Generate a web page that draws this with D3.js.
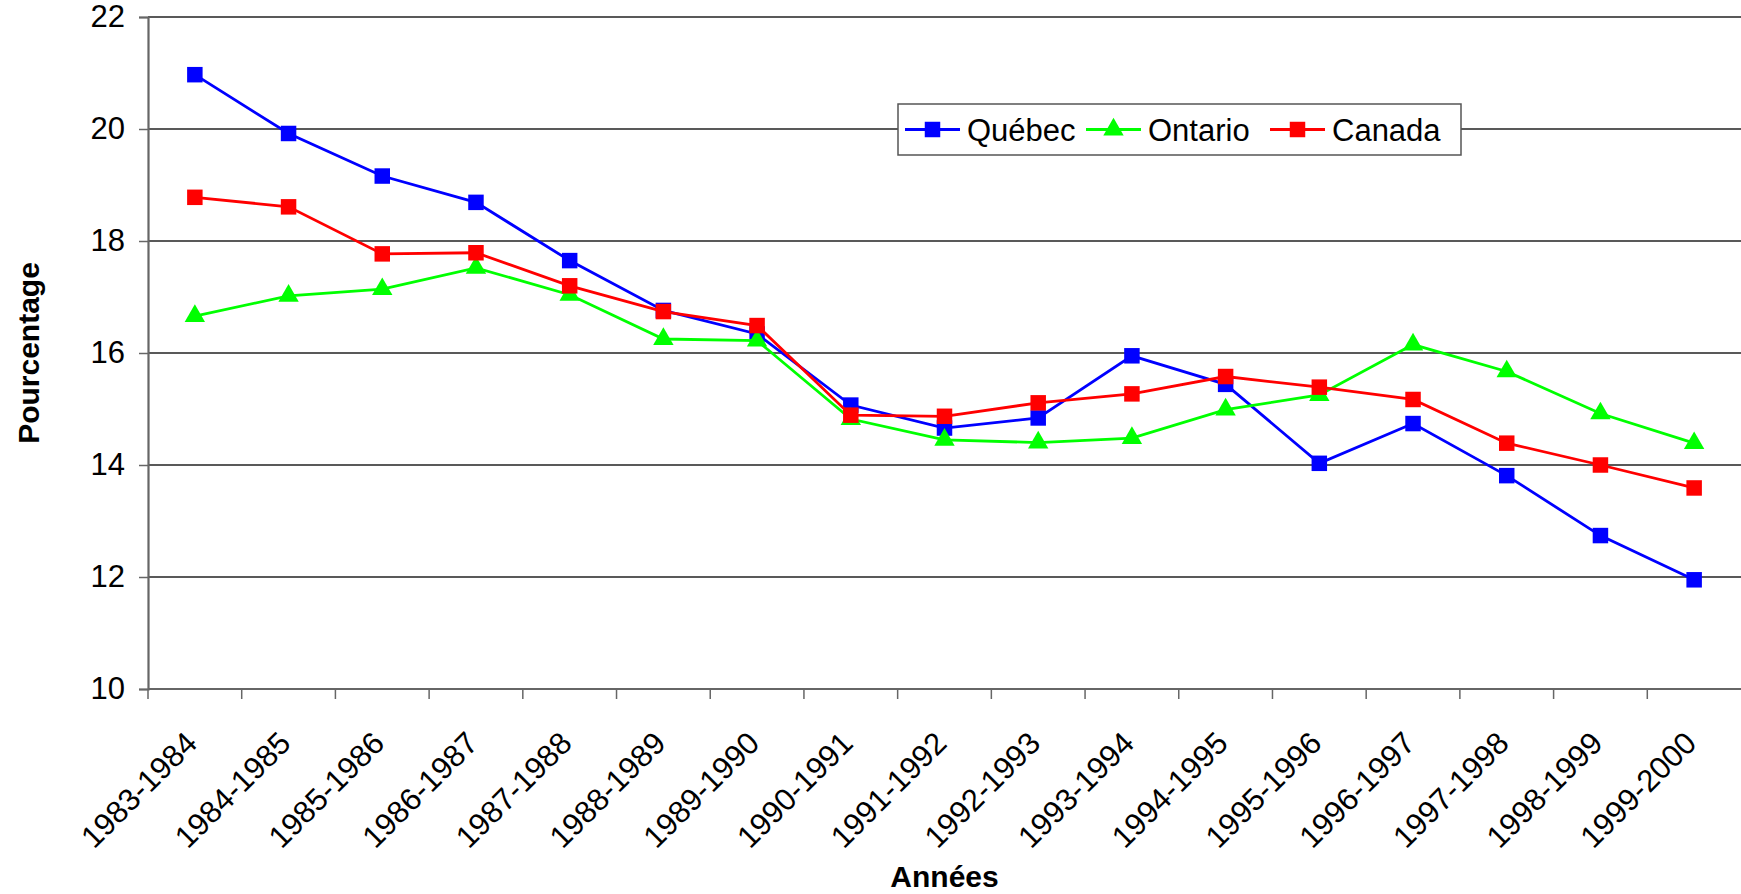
<!DOCTYPE html>
<html lang="fr">
<head>
<meta charset="UTF-8">
<script src="https://d3js.org/d3.v7.min.js"></script>
<style>
  body { margin: 0; background: #fff; }
  text { font-family: "Liberation Sans", Arial, sans-serif; }
</style>
<title>Pourcentage</title>
</head>
<body>
<div class="canvas"></div>
<script>
const years = ['1983-1984', '1984-1985', '1985-1986', '1986-1987', '1987-1988', '1988-1989',
  '1989-1990', '1990-1991', '1991-1992', '1992-1993', '1993-1994', '1994-1995',
  '1995-1996', '1996-1997', '1997-1998', '1998-1999', '1999-2000']
const quebec = [20.97, 19.92, 19.16, 18.69, 17.65, 16.76, 16.34, 15.07, 14.66, 14.84, 15.95,
  15.44, 14.03, 14.74, 13.81, 12.74, 11.95]
const ontario = [16.66, 17.02, 17.14, 17.52, 17.04, 16.25, 16.22, 14.82, 14.45, 14.40, 14.48,
  14.99, 15.25, 16.15, 15.67, 14.92, 14.39]
const canada = [18.78, 18.61, 17.77, 17.79, 17.2, 16.74, 16.49, 14.89, 14.87, 15.11, 15.27,
  15.58, 15.39, 15.17, 14.39, 14.0, 13.59]
const yTicks = [10, 12, 14, 16, 18, 20, 22]

const series = [
  { name: 'Québec', values: quebec, color: '#0000ff', shape: 'square' },
  { name: 'Ontario', values: ontario, color: '#00ff00', shape: 'triangle' },
  { name: 'Canada', values: canada, color: '#ff0000', shape: 'square' }
]

const width = 1741
const height = 894
const [mt, mr, mb, ml] = [17, 0, 205, 148]
const gw = width - ml - mr
const gh = height - mt - mb

const svg = d3.select('.canvas').append('svg')
  .attr('width', width)
  .attr('height', height)

const x = d3.scaleBand().domain(years).range([0, gw])
const y = d3.scaleLinear().domain([10, 22]).range([gh, 0])

const g = svg.append('g').attr('transform', `translate(${ml},${mt})`)

// grid
g.selectAll('.grid').data(yTicks.filter(d => d > 10)).enter()
  .append('line')
  .attr('x1', 0).attr('x2', gw)
  .attr('y1', d => y(d)).attr('y2', d => y(d))
  .attr('stroke', '#222').attr('stroke-width', 1.3)

// y axis
const yAxis = g.append('g')
  .call(d3.axisLeft(y).tickValues(yTicks).tickSize(9).tickPadding(14))
yAxis.select('.domain').attr('stroke', '#666').attr('stroke-width', 2.2)
yAxis.selectAll('.tick line').attr('stroke', '#666').attr('stroke-width', 1.5)
yAxis.selectAll('text').attr('font-size', 31).attr('fill', '#000')
  .style('font-family', '"Liberation Sans", Arial, sans-serif')

// x axis, ticks on band edges
const xAxis = g.append('g').attr('transform', `translate(0,${gh})`)
xAxis.append('line').attr('x1', 0).attr('x2', gw)
  .attr('stroke', '#666').attr('stroke-width', 2.2)
xAxis.selectAll('.xt').data(years).enter().append('line')
  .attr('x1', d => x(d)).attr('x2', d => x(d))
  .attr('y1', 0).attr('y2', 10)
  .attr('stroke', '#666').attr('stroke-width', 1.5)
xAxis.selectAll('.xl').data(years).enter().append('text')
  .attr('transform', d => `translate(${x(d) + x.bandwidth() / 2 + 4},${56}) rotate(-45)`)
  .attr('text-anchor', 'end')
  .attr('font-size', 31)
  .text(d => d)

// lines and markers
const line = d3.line()
  .x((d, i) => x(years[i]) + x.bandwidth() / 2)
  .y(d => y(d))

const sq = d3.symbol().type(d3.symbolSquare).size(240)
const tri = d3.symbol().type(d3.symbolTriangle).size(180)

series.forEach(s => {
  g.append('path')
    .attr('d', line(s.values))
    .attr('fill', 'none')
    .attr('stroke', s.color)
    .attr('stroke-width', 2.8)
  g.selectAll(null).data(s.values).enter().append('path')
    .attr('d', s.shape === 'square' ? sq() : tri())
    .attr('transform', (d, i) => `translate(${x(years[i]) + x.bandwidth() / 2},${y(d)})`)
    .attr('fill', s.color)
})

// legend
const legend = svg.append('g').attr('transform', 'translate(898,104)')
legend.append('rect')
  .attr('width', 563).attr('height', 51)
  .attr('fill', '#fff').attr('stroke', '#555').attr('stroke-width', 1.5)
const itemX = [7, 188, 372]
series.forEach((s, i) => {
  const it = legend.append('g').attr('transform', `translate(${itemX[i]},25.5)`)
  it.append('line').attr('x1', 0).attr('x2', 55)
    .attr('stroke', s.color).attr('stroke-width', 2.8)
  it.append('path')
    .attr('d', s.shape === 'square' ? sq() : tri())
    .attr('transform', 'translate(27.5,0)')
    .attr('fill', s.color)
  it.append('text').attr('x', 62).attr('y', 11)
    .attr('font-size', 31)
    .text(s.name)
})

// axis titles
svg.append('text')
  .attr('transform', `translate(39,${mt + gh / 2}) rotate(-90)`)
  .attr('text-anchor', 'middle')
  .attr('font-size', 30).attr('font-weight', 'bold')
  .text('Pourcentage')

svg.append('text')
  .attr('x', ml + gw / 2).attr('y', 887)
  .attr('text-anchor', 'middle')
  .attr('font-size', 30).attr('font-weight', 'bold')
  .text('Années')
</script>
</body>
</html>
